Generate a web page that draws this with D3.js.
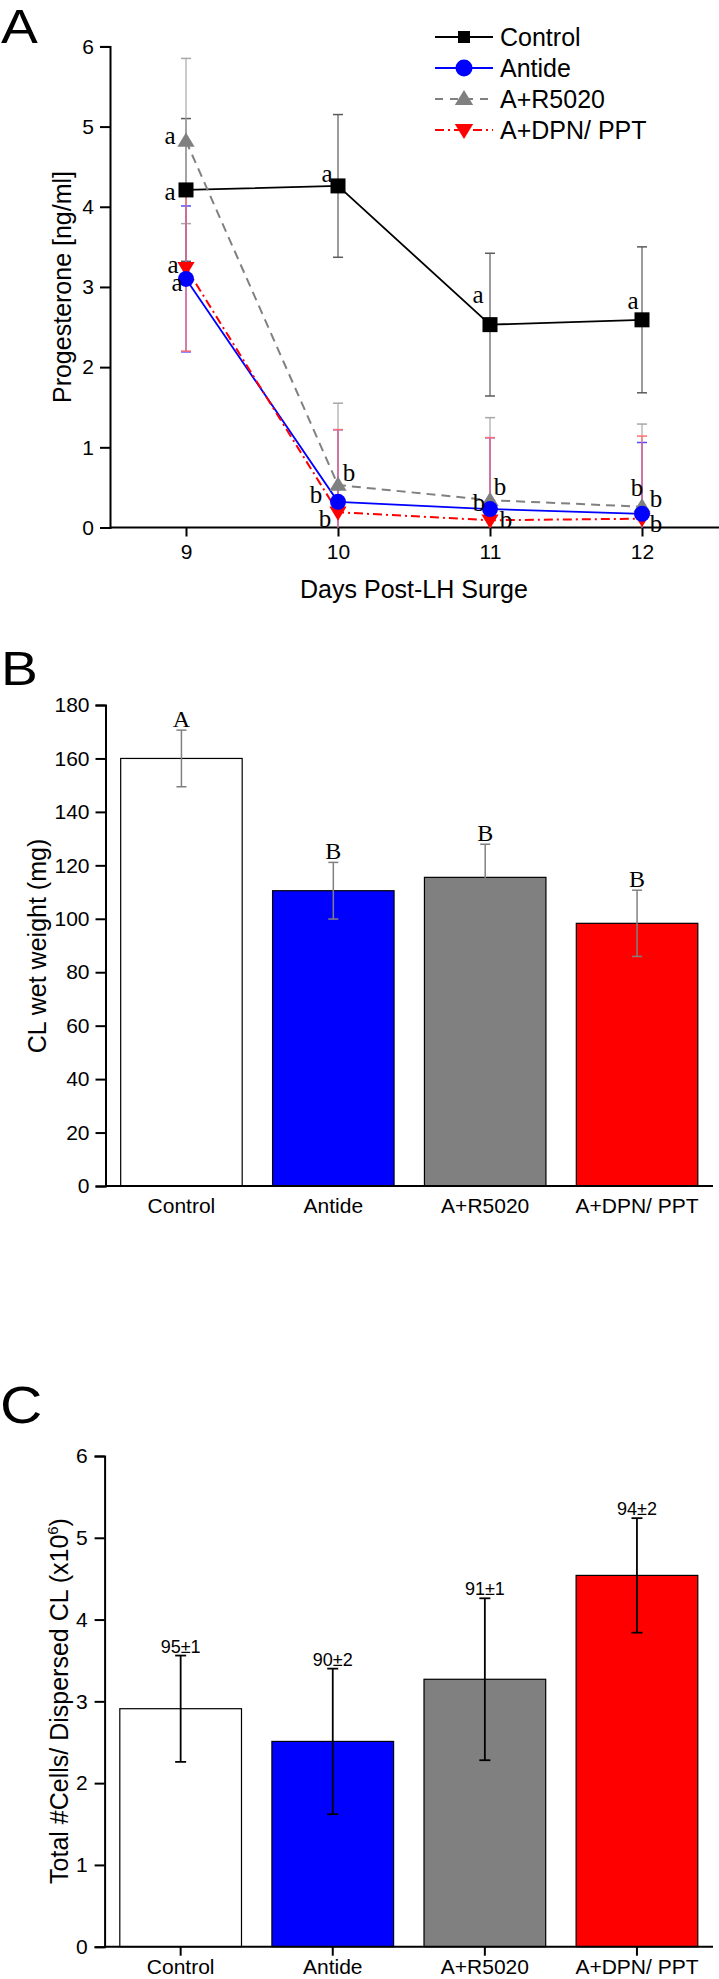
<!DOCTYPE html>
<html><head><meta charset="utf-8">
<script src="https://cdn.jsdelivr.net/npm/d3@7"></script>
<style>
body{margin:0;background:#fff}
svg{display:block}
text{font-family:"Liberation Sans",Arial,sans-serif;fill:#000}
</style>
</head><body>
<svg id="c" width="719" height="1979"></svg>
<script>
// ---------- Panel A data ----------
const days = [9, 10, 11, 12];
const seriesNames = ["Control", "Antide", "A+R5020", "A+DPN/ PPT"];
const controlP4 = [4.21, 4.26, 2.53, 2.59];
const controlP4Err = [0.89, 0.89, 0.89, 0.91];
const antideP4 = [3.10, 0.32, 0.23, 0.17];
const antideP4Err = [0.91, 0.90, 0.89, 0.89];
const r5020P4 = [4.82, 0.53, 0.34, 0.26];
const r5020P4Err = [1.03, 1.02, 1.03, 1.03];
const dpnP4 = [3.24, 0.19, 0.09, 0.11];
const dpnP4Err = [1.04, 1.03, 1.03, 1.03];
const controlLetters = ["a", "a", "a", "a"];
const antideLetters = ["a", "b", "b", "b"];
const r5020Letters = ["a", "b", "b", "b"];
const dpnLetters = ["a", "b", "b", "b"];
const yTicksA = [0, 1, 2, 3, 4, 5, 6];

// ---------- Panel B data ----------
const groups = ["Control", "Antide", "A+R5020", "A+DPN/ PPT"];
const weightMean = [160, 110.5, 115.5, 98.3];
const weightErr = [10.6, 10.6, 12.4, 12.4];
const weightLetters = ["A", "B", "B", "B"];
const yTicksB = [0, 20, 40, 60, 80, 100, 120, 140, 160, 180];

// ---------- Panel C data ----------
const cellsMean = [2.91, 2.51, 3.27, 4.54];
const cellsErr = [0.65, 0.89, 0.99, 0.70];
const viability = ["95±1", "90±2", "91±1", "94±2"];
const yTicksC = [0, 1, 2, 3, 4, 5, 6];

const svg = d3.select("#c");
const SERIF = "Liberation Serif, Times New Roman, serif";
const SANS = "Liberation Sans, Arial, sans-serif";

// panel letters
function panelLetter(t, x, y, fs) {
  svg.append("text").attr("transform", `translate(${x},${y}) scale(1.15,1)`)
    .attr("font-size", fs).text(t);
}
panelLetter("A", 1, 43, 48);
panelLetter("B", 1, 685, 48);
panelLetter("C", 0, 1423, 51);

// ================= Panel A =================
const xA = d3.scaleLinear().domain([8.5, 12.5]).range([110, 718]);
const yA = d3.scaleLinear().domain([0, 6]).range([527.5, 46.4]);
const gA = svg.append("g");

const axAy = gA.append("g").attr("transform", "translate(110,0)")
  .call(d3.axisLeft(yA).tickValues(yTicksA).tickSize(10).tickPadding(6).tickFormat(d3.format("d")));
const axAx = gA.append("g").attr("transform", "translate(0,527.5)")
  .call(d3.axisBottom(xA).tickValues(days).tickSize(9).tickPadding(8).tickFormat(d3.format("d")));
[axAy, axAx].forEach(a => {
  a.select(".domain").attr("stroke", "#000").attr("stroke-width", 2);
  a.selectAll(".tick line").attr("stroke", "#000").attr("stroke-width", 2);
  a.selectAll(".tick text").attr("font-size", 21).attr("font-family", SANS);
});
axAx.select(".domain").attr("d", "M110,0H719");

gA.append("text").attr("transform", "translate(71,287) rotate(-90)")
  .attr("text-anchor", "middle").attr("font-size", 25).text("Progesterone [ng/ml]");
gA.append("text").attr("x", 414).attr("y", 598).attr("text-anchor", "middle")
  .attr("font-size", 25).text("Days Post-LH Surge");

const seriesA = [
  {name: seriesNames[0], vals: controlP4, err: controlP4Err, letters: controlLetters, color: "#000", errColor: "#5a5a5a", dash: null, marker: "square"},
  {name: seriesNames[2], vals: r5020P4, err: r5020P4Err, letters: r5020Letters, color: "#808080", errColor: "#a8a8a8", dash: "9,6", marker: "up"},
  {name: seriesNames[1], vals: antideP4, err: antideP4Err, letters: antideLetters, color: "#0000ff", errColor: "#4d4dff", dash: null, marker: "circle"},
  {name: seriesNames[3], vals: dpnP4, err: dpnP4Err, letters: dpnLetters, color: "#ff0000", errColor: "#ff7070", dash: "9,4,2,4", marker: "down"}
];

// error bars
seriesA.forEach(s => {
  days.forEach((d, i) => {
    const hi = s.vals[i] + s.err[i], lo = Math.max(0, s.vals[i] - s.err[i]);
    const x = xA(d);
    gA.append("line").attr("x1", x).attr("x2", x).attr("y1", yA(hi)).attr("y2", yA(lo))
      .attr("stroke", s.errColor).attr("stroke-width", 1.2);
    gA.append("line").attr("x1", x - 5).attr("x2", x + 5).attr("y1", yA(hi)).attr("y2", yA(hi))
      .attr("stroke", s.errColor).attr("stroke-width", 1.5);
    if (s.vals[i] - s.err[i] > 0)
      gA.append("line").attr("x1", x - 5).attr("x2", x + 5).attr("y1", yA(lo)).attr("y2", yA(lo))
        .attr("stroke", s.errColor).attr("stroke-width", 1.5);
  });
});

// lines
const lineGen = d3.line().x((d, i) => xA(days[i])).y(d => yA(d));
seriesA.forEach(s => {
  gA.append("path").attr("d", lineGen(s.vals)).attr("fill", "none")
    .attr("stroke", s.color).attr("stroke-width", s.dash ? 2 : 1.8)
    .attr("stroke-dasharray", s.dash);
});

function drawMarker(g, type, x, y, color, sz) {
  if (type === "square") {
    g.append("rect").attr("x", x - sz / 2).attr("y", y - sz / 2).attr("width", sz).attr("height", sz).attr("fill", color);
  } else if (type === "circle") {
    g.append("circle").attr("cx", x).attr("cy", y).attr("r", sz / 2 + 0.5).attr("fill", color);
  } else if (type === "up") {
    const h = sz * 0.95, w = sz * 1.15;
    g.append("path").attr("d", `M${x},${y - h * 0.6}L${x + w / 2},${y + h * 0.4}L${x - w / 2},${y + h * 0.4}Z`).attr("fill", color);
  } else {
    const h = sz * 0.95, w = sz * 1.15;
    g.append("path").attr("d", `M${x},${y + h * 0.6}L${x + w / 2},${y - h * 0.4}L${x - w / 2},${y - h * 0.4}Z`).attr("fill", color);
  }
}
[seriesA[0], seriesA[1], seriesA[3], seriesA[2]].forEach(s => {
  days.forEach((d, i) => drawMarker(gA, s.marker, xA(d), yA(s.vals[i]), s.color, 15));
});

// significance letters: offsets relative to each point (pixels)
const letterOffsets = {
  "Control": [[-16, 3], [-11, -11], [-12, -29], [-9, -18]],
  "A+R5020": [[-16, -5], [11, -12], [10, -13], [14, -7]],
  "Antide": [[-9, 5], [-22, -6], [-11, -6], [-5, -25]],
  "A+DPN/ PPT": [[-13, -2], [-13, 7], [16, 0], [14, 6]]
};
seriesA.forEach(s => {
  days.forEach((d, i) => {
    const o = letterOffsets[s.name][i];
    gA.append("text").attr("x", xA(d) + o[0]).attr("y", yA(s.vals[i]) + o[1])
      .attr("dy", "0.3em").attr("text-anchor", "middle").attr("font-size", 25)
      .style("font-family", SERIF).text(s.letters[i]);
  });
});

// legend
const legend = gA.append("g");
const legOrder = [seriesA[0], seriesA[2], seriesA[1], seriesA[3]];
legOrder.forEach((s, i) => {
  const y = 37 + i * 31;
  legend.append("line").attr("x1", 435).attr("x2", 493).attr("y1", y).attr("y2", y)
    .attr("stroke", s.color).attr("stroke-width", 2).attr("stroke-dasharray", s.dash ? (s.dash === "9,6" ? "8,7" : "9,4,2,4") : null);
  drawMarker(legend, s.marker, 464, y, s.color, s.marker === "square" ? 12 : 16);
  legend.append("text").attr("x", 500).attr("y", y).attr("dy", "0.35em").attr("font-size", 25).text(s.name);
});

// ================= Panel B =================
const xB = d3.scaleBand().domain(groups).range([105.5, 713]).paddingInner(0.2).paddingOuter(0.1);
const yB = d3.scaleLinear().domain([0, 180]).range([1186, 705]);
const barColors = ["#ffffff", "#0000ff", "#808080", "#ff0000"];
const gB = svg.append("g");

gB.selectAll("rect.bar").data(weightMean).enter().append("rect")
  .attr("x", (d, i) => xB(groups[i])).attr("width", xB.bandwidth())
  .attr("y", d => yB(d)).attr("height", d => yB(0) - yB(d))
  .attr("fill", (d, i) => barColors[i]).attr("stroke", "#000").attr("stroke-width", 1.2);

weightMean.forEach((m, i) => {
  const x = xB(groups[i]) + xB.bandwidth() / 2;
  const hi = m + weightErr[i], lo = m - weightErr[i];
  gB.append("line").attr("x1", x).attr("x2", x).attr("y1", yB(hi)).attr("y2", yB(lo)).attr("stroke", "#808080").attr("stroke-width", 1.5);
  [hi, lo].forEach(v => gB.append("line").attr("x1", x - 5).attr("x2", x + 5).attr("y1", yB(v)).attr("y2", yB(v)).attr("stroke", "#808080").attr("stroke-width", 1.5));
  gB.append("text").attr("x", x).attr("y", yB(hi) - 3).attr("text-anchor", "middle").attr("font-size", 24)
    .style("font-family", SERIF).text(weightLetters[i]);
});

const axBy = gB.append("g").attr("transform", "translate(105.5,0)")
  .call(d3.axisLeft(yB).tickValues(yTicksB).tickSize(10).tickPadding(6));
const axBx = gB.append("g").attr("transform", "translate(0,1186)")
  .call(d3.axisBottom(xB).tickSize(0).tickPadding(12));
[axBy, axBx].forEach(a => {
  a.select(".domain").attr("stroke", "#000").attr("stroke-width", 2);
  a.selectAll(".tick line").attr("stroke", "#000").attr("stroke-width", 2);
  a.selectAll(".tick text").attr("font-size", 21).attr("font-family", SANS);
});
axBx.select(".domain").attr("d", "M105.5,0H713");
gB.append("text").attr("transform", "translate(46,946) rotate(-90)")
  .attr("text-anchor", "middle").attr("font-size", 25).text("CL wet weight (mg)");

// ================= Panel C =================
const xC = d3.scaleBand().domain(groups).range([104.6, 713]).paddingInner(0.2).paddingOuter(0.1);
const yC = d3.scaleLinear().domain([0, 6]).range([1946.7, 1456]);
const gC = svg.append("g");

gC.selectAll("rect.bar").data(cellsMean).enter().append("rect")
  .attr("x", (d, i) => xC(groups[i])).attr("width", xC.bandwidth())
  .attr("y", d => yC(d)).attr("height", d => yC(0) - yC(d))
  .attr("fill", (d, i) => barColors[i]).attr("stroke", "#000").attr("stroke-width", 1.2);

cellsMean.forEach((m, i) => {
  const x = xC(groups[i]) + xC.bandwidth() / 2;
  const hi = m + cellsErr[i], lo = m - cellsErr[i];
  gC.append("line").attr("x1", x).attr("x2", x).attr("y1", yC(hi)).attr("y2", yC(lo)).attr("stroke", "#000").attr("stroke-width", 1.8);
  [hi, lo].forEach(v => gC.append("line").attr("x1", x - 5.5).attr("x2", x + 5.5).attr("y1", yC(v)).attr("y2", yC(v)).attr("stroke", "#000").attr("stroke-width", 1.8));
  gC.append("text").attr("x", x).attr("y", yC(hi) - 3).attr("text-anchor", "middle").attr("font-size", 18).text(viability[i]);
});

const axCy = gC.append("g").attr("transform", "translate(104.6,0)")
  .call(d3.axisLeft(yC).tickValues(yTicksC).tickSize(10).tickPadding(7).tickFormat(d3.format("d")));
const axCx = gC.append("g").attr("transform", "translate(0,1946.7)")
  .call(d3.axisBottom(xC).tickSize(9).tickPadding(4));
[axCy, axCx].forEach(a => {
  a.select(".domain").attr("stroke", "#000").attr("stroke-width", 2);
  a.selectAll(".tick line").attr("stroke", "#000").attr("stroke-width", 2);
  a.selectAll(".tick text").attr("font-size", 21).attr("font-family", SANS);
});
axCx.selectAll(".tick text").attr("dy", "0.66em");
axCx.select(".domain").attr("d", "M104.6,0H713");
const tC = gC.append("text").attr("transform", "translate(68,1701) rotate(-90)")
  .attr("text-anchor", "middle").attr("font-size", 25);
tC.append("tspan").text("Total #Cells/ Dispersed CL (x10");
tC.append("tspan").attr("font-size", 15).attr("dy", -10).text("6");
tC.append("tspan").attr("dy", 10).text(")");
</script>
</body></html>
